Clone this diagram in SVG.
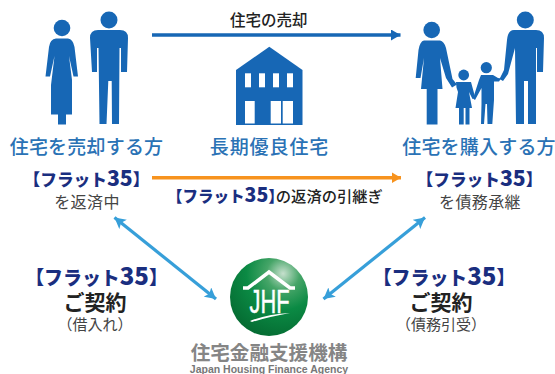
<svg xmlns="http://www.w3.org/2000/svg" width="555" height="374" viewBox="0 0 555 374">
<style>
text{font-family:"Noto Sans CJK JP","Noto Sans",sans-serif}
.fig{fill:#1767b5}
.role{font-size:19px;letter-spacing:.2px;fill:#2a72b5;text-anchor:middle;font-weight:500}
.f35{font-size:16.7px;font-weight:900;fill:#1a2e7f;text-anchor:middle}
.f35 tspan{font-size:1.27em}
.sub{font-size:16px;letter-spacing:.4px;fill:#444;text-anchor:middle}
.par{font-size:15px;letter-spacing:0;fill:#444;text-anchor:middle}
.big{font-size:21px;font-weight:700;fill:#222;text-anchor:middle}
.cap{font-size:15.5px;font-weight:500;fill:#222}
</style>
<defs>
<radialGradient id="g" cx="0.68" cy="0.2" r="0.85">
<stop offset="0" stop-color="#c6e0cd"/><stop offset="0.25" stop-color="#46a568"/><stop offset="0.55" stop-color="#0b8a44"/><stop offset="1" stop-color="#056b32"/>
</radialGradient>
<marker id="hb" markerUnits="userSpaceOnUse" markerWidth="10" markerHeight="11" refX="9.5" refY="5.5" orient="auto"><path d="M0 0L9.5 5.5L0 11Z" fill="#1767b5"/></marker>
<marker id="ho" markerUnits="userSpaceOnUse" markerWidth="10" markerHeight="11" refX="9.5" refY="5.5" orient="auto"><path d="M0 0L9.5 5.5L0 11Z" fill="#f7931e"/></marker>
<marker id="hl" markerUnits="userSpaceOnUse" markerWidth="12" markerHeight="12" refX="11" refY="6" orient="auto-start-reverse"><path d="M0 0L11 6L0 12L2.5 6Z" fill="#379fd9"/></marker>
</defs>

<g id="connectors" fill="none">
<path d="M152 35H400.5" stroke="#1767b5" stroke-width="3.5" marker-end="url(#hb)"/>
<path d="M152 177.7H401" stroke="#f7931e" stroke-width="3.5" marker-end="url(#ho)"/>
<path d="M114.5 217.5L216 299" stroke="#379fd9" stroke-width="3.2" marker-start="url(#hl)" marker-end="url(#hl)"/>
<path d="M425 217.5L323.5 299" stroke="#379fd9" stroke-width="3.2" marker-start="url(#hl)" marker-end="url(#hl)"/>
</g>

<g id="seller">
<circle class="fig" cx="62" cy="28" r="8.3"/>
<path class="fig" d="M56 38.5H68Q73 39 74.5 47L78 76.5H73.5L69 56L72 80V114.5H66V124.5H58V114.5H51V85L54.5 56L50 76.5H45.5L49 47Q50 39 56 38.5Z"/>
<circle class="fig" cx="109" cy="20" r="8.5"/>
<path class="fig" d="M98 30H120Q128 30 128 38L127 72H121V48H119.5L119 124H112L111.7 81H108.3L106.5 124H99.5L98.5 48H97V72H92L90 38Q90 30 98 30Z"/>
<text class="role" x="86.5" y="154">住宅を売却する方</text>
<text class="f35" x="86.5" y="186">【フラット<tspan>35</tspan>】</text>
<text class="sub" x="87" y="208">を返済中</text>
</g>

<g id="house">
<path class="fig" d="M269.3 46.7L302.5 70V125H236V70Z"/>
<g fill="#fff">
<rect x="245" y="73.3" width="6" height="14"/><rect x="259" y="73.3" width="6" height="14"/><rect x="273" y="73.3" width="6" height="14"/><rect x="287" y="73.3" width="6" height="14"/>
<rect x="245" y="101" width="9.7" height="22.5"/><rect x="270.7" y="101" width="10.3" height="22.5"/><rect x="282.7" y="101" width="10.3" height="22.5"/>
</g>
<text class="role" x="269.5" y="154" style="letter-spacing:.9px">長期優良住宅</text>
</g>

<g id="buyer">
<circle class="fig" cx="431.7" cy="30" r="8.3"/>
<path class="fig" d="M424 40.5H440Q444 41 446 48L452.5 79L457 84.5L452 87.5L446 78L440 58L442.5 89H437.5V124.5H426.7V89H421L424 58L420.5 78H415.7L418.5 50Q420 41 424 40.5Z"/>
<circle class="fig" cx="463.7" cy="75" r="5.4"/>
<path class="fig" d="M456 82H471L474 93L475 97.5L472.5 99L469 92L472 108H469.5V124.5H465.5V108H463.7V124.5H459V108H455.5L458 92L456.5 87.5Z"/>
<circle class="fig" cx="486.3" cy="67.7" r="5.6"/>
<path class="fig" d="M481 75H493L498 78L501 78.5L499 81.5L494 81.5V100L492.3 124H487.5L487 104H485.5L484 124H481L481.5 104V88L475 100L473 98.5L479 80Z"/>
<circle class="fig" cx="525.3" cy="20" r="8.5"/>
<path class="fig" d="M514 30H536Q544 30 544 38L543 72H537V48H536V124H528V81H524V124H516L515 48L508 74L503 81L499.5 79L504 70L507 40Q508 30 514 30Z"/>
<text class="role" x="479" y="154">住宅を購入する方</text>
<text class="f35" x="479.5" y="186">【フラット<tspan>35</tspan>】</text>
<text class="sub" x="480" y="208">を債務承継</text>
</g>

<g id="labels">
<text class="cap" x="230" y="26">住宅の売却</text>
<text x="167" y="202" font-size="15.5" font-weight="900" fill="#1a2e7f">【フラット<tspan font-size="19.5">35</tspan>】<tspan dx="-8" font-size="15.3" font-weight="500" fill="#222">の返済の引継ぎ</tspan></text>
</g>

<g id="contract-left">
<text class="f35" x="96.5" y="285" style="font-size:18.9px">【フラット<tspan>35</tspan>】</text>
<text class="big" x="95" y="310">ご契約</text>
<text class="par" x="95" y="330">（借入れ）</text>
</g>

<g id="contract-right">
<text class="f35" x="444" y="285" style="font-size:18.9px">【フラット<tspan>35</tspan>】</text>
<text class="big" x="441" y="310">ご契約</text>
<text class="par" x="441" y="330">（債務引受）</text>
</g>

<g id="jhf">
<circle cx="269" cy="297" r="39" fill="url(#g)"/>
<path d="M243 288H248L269 272L290 288H295" fill="none" stroke="#fff" stroke-width="3.5"/>
<text x="269.5" y="313" font-size="34" fill="#fff" text-anchor="middle" stroke="#fff" stroke-width=".5" style="font-family:'Liberation Sans',sans-serif" textLength="40" lengthAdjust="spacingAndGlyphs">JHF</text>
<path d="M250 321Q268 314 290 313Q268 317 252 322Z" fill="#fff"/>
<text x="269" y="360" font-size="19.6" font-weight="700" fill="#858585" text-anchor="middle">住宅金融支援機構</text>
<text x="269" y="373" font-size="10.5" font-weight="700" fill="#777" text-anchor="middle" style="font-family:'Liberation Sans',sans-serif">Japan Housing Finance Agency</text>
</g>
</svg>
